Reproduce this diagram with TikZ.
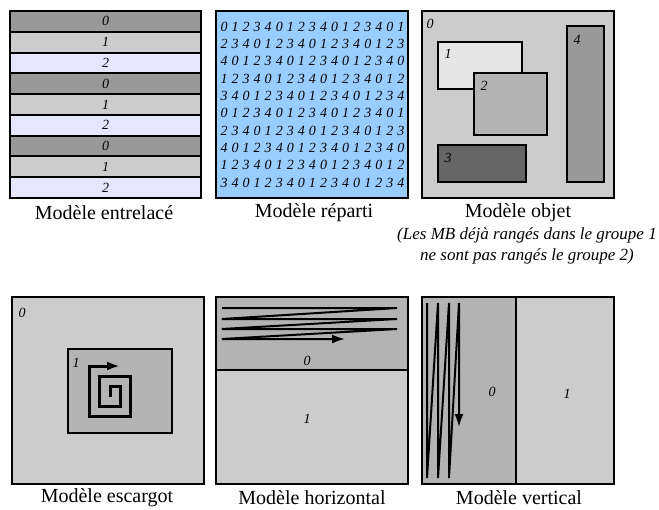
\documentclass[tikz,border=0pt]{standalone}
\usepackage{fontspec}
\setmainfont{Liberation Serif}
\usetikzlibrary{arrows.meta}
\definecolor{ligne0}{HTML}{999999}
\definecolor{ligne1}{HTML}{CCCCCC}
\definecolor{ligne2}{HTML}{E6E6FF}
\definecolor{ciel}{HTML}{99CCFF}
\definecolor{fond}{HTML}{CCCCCC}
\definecolor{moyen}{HTML}{B3B3B3}
\definecolor{pale}{HTML}{E6E6E6}
\definecolor{sombre}{HTML}{666666}
\definecolor{gris}{HTML}{999999}
\begin{document}
\begin{tikzpicture}[x=0.5pt, y=-0.5pt,
    cadre/.style={draw=black, line width=1pt},
    num/.style={font=\fontsize{7}{8}\selectfont\itshape, inner sep=0pt},
    legende/.style={font=\fontsize{10}{12}\selectfont},
    parcours/.style={line width=1pt, -{Latex[length=6.5pt, width=4.5pt]}}]
    \useasboundingbox (0,0) rectangle (659,509);

    % Modèle entrelacé
    \foreach \i/\k in {0/0,1/1,2/2,3/0,4/1,5/2,6/0,7/1,8/2} {
        \draw[cadre, fill=ligne\k] (10,{11+\i*20.78}) rectangle (201,{11+(\i+1)*20.78});
        \node[num] (ent-\i) at (105.5,{21.4+\i*20.78}) {\k};
    }
    \node[legende] (leg-ent) at (104,213) {Modèle entrelacé};

    % Modèle réparti
    \draw[cadre, fill=ciel] (216,11) rectangle (408,198);
    \foreach \r in {0,...,9} {
        \foreach \c in {0,...,16} {
            \pgfmathtruncatemacro\v{mod(2*\r+\c,5)}
            \node[num] (rep-\r-\c) at ({224+\c*11.06},{26.7+\r*17.33}) {\v};
        }
    }
    \node[legende] (leg-rep) at (314,213) {Modèle réparti};

    % Modèle objet
    \draw[cadre, fill=fond] (422,11) rectangle (614,198);
    \node[num] (obj-0) at (430,24) {0};
    \draw[cadre, fill=pale] (438,42) rectangle (522,89);
    \node[num] (obj-1) at (448,54) {1};
    \draw[cadre, fill=moyen] (474,73) rectangle (547,135);
    \node[num] (obj-2) at (484,86) {2};
    \draw[cadre, fill=sombre] (438,145) rectangle (526,182);
    \node[num] (obj-3) at (448,158) {3};
    \draw[cadre, fill=gris] (567,26) rectangle (604,182);
    \node[num] (obj-4) at (577,40) {4};
    \node[legende] (leg-obj) at (518,213) {Modèle objet};
    \node[font=\fontsize{8.5}{10.5}\selectfont\itshape, align=center] (remarque) at (527,246)
        {(Les MB déjà rangés dans le groupe 1\\ne sont pas rangés le groupe 2)};

    % Modèle escargot
    \draw[cadre, fill=fond] (12,297) rectangle (204,484);
    \node[num] (esc-0) at (22,313) {0};
    \draw[cadre, fill=moyen] (68,349) rectangle (172,433);
    \node[num] (esc-1) at (76,363) {1};
    \draw[line width=1.5pt, -{Latex[length=6.5pt, width=4.5pt]}]
        (110,396.7) -- (110,386.7) -- (120,386.7) -- (120,406.7) -- (99.3,406.7)
        -- (99.3,376) -- (130,376) -- (130,416.7) -- (89.3,416.7) -- (89.3,366) -- (120,366);
    \node[legende] (leg-esc) at (107,498) {Modèle escargot};

    % Modèle horizontal
    \draw[cadre, fill=moyen] (216,297) rectangle (408,370);
    \draw[cadre, fill=fond] (216,370) rectangle (408,484);
    \node[num] (hor-0) at (307,361) {0};
    \node[num] (hor-1) at (307,419) {1};
    \draw[parcours] (222,308) -- (397,308) -- (222,319) -- (397,319) -- (222,329)
        -- (397,329) -- (222,339) -- (345,339);
    \node[legende] (leg-hor) at (312,498) {Modèle horizontal};

    % Modèle vertical
    \draw[cadre, fill=moyen] (422,297) rectangle (516,484);
    \draw[cadre, fill=fond] (516,297) rectangle (614,484);
    \node[num] (ver-0) at (492,392) {0};
    \node[num] (ver-1) at (567,394) {1};
    \draw[parcours] (427,303) -- (427,478) -- (438,303) -- (438,478) -- (449,303)
        -- (449,478) -- (459,303) -- (459,427);
    \node[legende] (leg-ver) at (519,498) {Modèle vertical};
\end{tikzpicture}
\end{document}
